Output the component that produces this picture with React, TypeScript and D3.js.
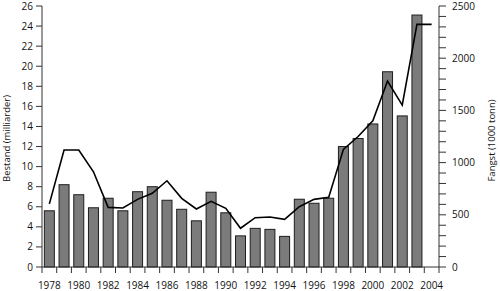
import React from "react";
import * as d3 from "d3";

const years = d3.range(1978, 2005);
const stockYears = d3.range(1978, 2004);
const stock = [5.6, 8.2, 7.2, 5.9, 6.85, 5.6, 7.5, 8.0, 6.65, 5.75, 4.6, 7.45, 5.4, 3.1, 3.85, 3.75, 3.05, 6.75, 6.35, 6.85, 12.0, 12.8, 14.25, 19.45, 15.05, 25.1];
const catch_ = [605, 1120, 1120, 912, 571, 565, 648, 706, 826, 658, 556, 629, 562, 371, 472, 479, 457, 577, 648, 668, 1127, 1250, 1400, 1781, 1551, 2324, 2324];
const leftTicks = d3.range(0, 27, 2);
const rightMajor = d3.range(0, 2501, 500);
const rightMinor = d3.range(0, 2501, 100);
const xLabels = d3.range(1978, 2005, 2);

const W = 500, H = 291;
const L = 42, R = 439, T = 6, B = 267;
const FONT = "'Open Sans', sans-serif";

export default function App() {
  const x = d3.scaleBand<number>().domain(years).range([L, R]).paddingInner(0.32).paddingOuter(0.16);
  const yL = d3.scaleLinear().domain([0, 26]).range([B, T]);
  const yR = d3.scaleLinear().domain([0, 2500]).range([B, T]);
  const step = x.step();
  const cx = (yr: number) => (x(yr) as number) + x.bandwidth() / 2;
  const line = d3.line<number>().x((_, i) => cx(years[i])).y((d) => yR(d));
  const boundaries = d3.range(0, years.length + 1).map((i) => L + i * step);

  return (
    <svg width={W} height={H} style={{ position: "absolute", left: 0, top: 0, background: "#fff" }} fontFamily={FONT}>
      {stockYears.map((yr, i) => (
        <rect key={yr} x={x(yr)} y={yL(stock[i])} width={x.bandwidth()} height={B - yL(stock[i])} fill="#7b7b7b" stroke="#1e1e1e" strokeWidth={1} />
      ))}
      <path d={line(catch_) || ""} fill="none" stroke="#000" strokeWidth={1.6} strokeLinejoin="miter" />
      {/* left axis */}
      <line x1={L} x2={L} y1={T} y2={B} stroke="#333" />
      {leftTicks.map((t) => (
        <g key={t}>
          <line x1={L - 6} x2={L} y1={yL(t)} y2={yL(t)} stroke="#333" />
          <text x={L - 9} y={yL(t)} dy="0.35em" textAnchor="end" fontSize={10} fill="#111">{t}</text>
        </g>
      ))}
      {/* right axis */}
      <line x1={R} x2={R} y1={T} y2={B} stroke="#333" />
      {rightMinor.map((t) => (
        <line key={t} x1={R} x2={R + 7} y1={yR(t)} y2={yR(t)} stroke="#333" />
      ))}
      {rightMajor.map((t) => (
        <text key={t} x={R + 13} y={yR(t)} dy="0.35em" textAnchor="start" fontSize={10} fill="#111">{t}</text>
      ))}
      {/* x axis */}
      <line x1={L} x2={R} y1={B} y2={B} stroke="#333" />
      {boundaries.map((bx, i) => (
        <line key={i} x1={bx} x2={bx} y1={B} y2={B + 6} stroke="#333" />
      ))}
      {xLabels.map((yr) => (
        <text key={yr} x={cx(yr)} y={289} textAnchor="middle" fontSize={10} fill="#111">{yr}</text>
      ))}
      <text transform={`translate(10,${(T + B) / 2 + 2}) rotate(-90)`} textAnchor="middle" fontSize={9.5} fill="#111">Bestand (milliarder)</text>
      <text transform={`translate(495,${(T + B) / 2 + 4}) rotate(-90)`} textAnchor="middle" fontSize={9.5} fill="#111">Fangst (1000 tonn)</text>
    </svg>
  );
}
